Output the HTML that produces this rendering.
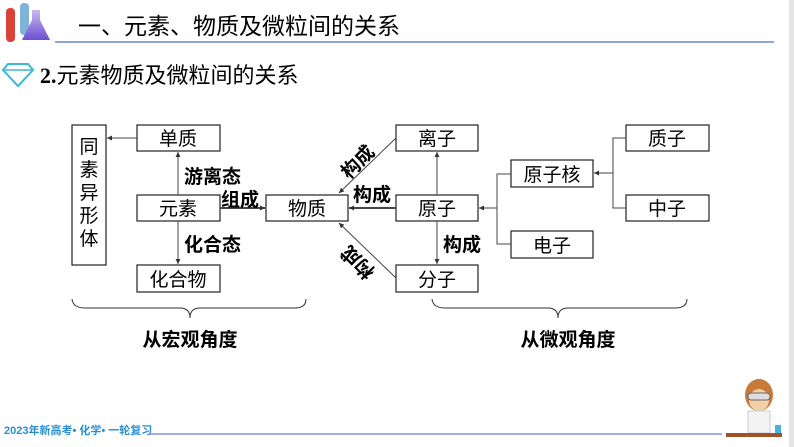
<!DOCTYPE html>
<html><head><meta charset="utf-8"><style>
body{margin:0;background:#fff;}
svg{display:block;}
text{font-family:"Liberation Sans","Noto Sans CJK SC",sans-serif;}
</style></head><body>
<svg width="794" height="447" viewBox="0 0 794 447" xmlns="http://www.w3.org/2000/svg">
<defs>
<marker id="a" markerWidth="6" markerHeight="6" refX="5" refY="3" orient="auto" markerUnits="userSpaceOnUse">
<path d="M0,0.5 L5,3 L0,5.5 z" fill="#333"/></marker>
<linearGradient id="fl" x1="0" y1="0" x2="0" y2="1"><stop offset="0" stop-color="#c9b8f0"/><stop offset="1" stop-color="#6b4fd0"/></linearGradient>
</defs>
<rect x="789" y="0" width="5" height="447" fill="#e4e4e4"/>
<rect x="6" y="8" width="9" height="34" rx="4" fill="#d9443a"/>
<rect x="20" y="3" width="9" height="32" rx="4" fill="#7fb3d9"/>
<path d="M32 10 h8 v10 l10 20 h-28 l10 -20 z" fill="url(#fl)"/>
<line x1="55" y1="42" x2="774" y2="42" stroke="#8ea6e0" stroke-width="2"/>
<text x="78" y="34" font-size="23" fill="#000">一、元素、物质及微粒间的关系</text>
<path d="M3 70 l5 -6 h20 l5 6 l-15 16 z" fill="#fff" stroke="#39b8d8" stroke-width="2"/>
<line x1="3" y1="70" x2="33" y2="70" stroke="#39b8d8" stroke-width="1.5"/>
<text x="40" y="83" font-size="22" fill="#000"><tspan font-weight="bold" font-family="Liberation Serif">2.</tspan>元素物质及微粒间的关系</text>
<g fill="#fff" stroke="#222" stroke-width="1.2">
<rect x="72" y="125" width="34" height="140"/>
<rect x="137" y="125" width="83" height="26"/>
<rect x="137" y="195" width="83" height="26"/>
<rect x="137" y="265" width="83" height="27"/>
<rect x="266" y="195" width="82" height="26"/>
<rect x="396" y="125" width="82" height="26"/>
<rect x="396" y="195" width="82" height="26"/>
<rect x="396" y="265" width="82" height="27"/>
<rect x="511" y="160" width="82" height="27"/>
<rect x="511" y="231" width="82" height="27"/>
<rect x="626" y="125" width="83" height="26"/>
<rect x="626" y="195" width="83" height="26"/>
</g>
<g font-size="19" text-anchor="middle" fill="#000">
<text x="178" y="145">单质</text><text x="178" y="215">元素</text><text x="178" y="286">化合物</text>
<text x="307" y="215">物质</text><text x="437" y="145">离子</text><text x="437" y="215">原子</text><text x="437" y="286">分子</text>
<text x="552" y="181">原子核</text><text x="552" y="252">电子</text><text x="667" y="145">质子</text><text x="667" y="215">中子</text>
<text x="89" y="153">同</text><text x="89" y="176">素</text><text x="89" y="199">异</text><text x="89" y="222">形</text><text x="89" y="245">体</text>
</g>
<g stroke="#444" stroke-width="1" fill="none" marker-end="url(#a)">
<line x1="137" y1="138" x2="107" y2="138"/>
<line x1="178" y1="195" x2="178" y2="152"/>
<line x1="178" y1="221" x2="178" y2="264"/>
<line x1="220" y1="208" x2="265" y2="208" stroke-width="2"/>
<line x1="396" y1="208" x2="349" y2="208" stroke-width="2"/>
<line x1="396" y1="138" x2="339" y2="193"/>
<line x1="396" y1="278" x2="339" y2="223"/>
<line x1="437" y1="195" x2="437" y2="152"/>
<line x1="437" y1="221" x2="437" y2="264"/>
<path d="M511 174 H497 V244 H511" marker-end="none"/>
<line x1="497" y1="208" x2="479" y2="208"/>
<path d="M626 138 H613 V208 H626" marker-end="none"/>
<line x1="613" y1="173" x2="594" y2="173"/>
</g>
<g font-size="19" font-weight="bold" fill="#000">
<text x="184" y="183">游离态</text>
<text x="221" y="206">组成</text>
<text x="184" y="251">化合态</text>
<text x="353" y="201">构成</text>
<text x="443" y="251">构成</text>
<text x="0" y="0" transform="translate(349,180) rotate(-45)">构成</text>
<text x="0" y="0" transform="translate(376,271) rotate(-135)">构成</text>
</g>
<g stroke="#333" stroke-width="1" fill="none">
<path d="M72 299 Q73 308 85 308 H180 Q190 308 190 318 Q190 308 200 308 H295 Q306 308 306 299"/>
<path d="M432 299 Q433 308 445 308 H548 Q558 308 558 318 Q558 308 568 308 H675 Q687 308 687 299"/>
</g>
<g font-size="19" font-weight="bold" text-anchor="middle" fill="#000">
<text x="190" y="346">从宏观角度</text>
<text x="568" y="346">从微观角度</text>
</g>
<text x="4" y="434" font-size="11" font-weight="bold" fill="#2a8fd0">2023年新高考• 化学• 一轮复习</text>
<line x1="148" y1="434" x2="722" y2="434" stroke="#7f9be0" stroke-width="1.5"/>
<ellipse cx="759" cy="395" rx="14" ry="16" fill="#c77a3a"/>
<ellipse cx="759" cy="400" rx="10" ry="11" fill="#f4cfa8"/>
<rect x="748" y="393" width="22" height="7" rx="3" fill="#ddd" stroke="#666"/>
<rect x="748" y="411" width="22" height="22" fill="#f3f3f3" stroke="#ccc"/>
<rect x="726" y="433" width="56" height="4" fill="#a0522d"/>
<rect x="775" y="425" width="6" height="8" fill="#4ab0e0"/>
</svg>
</body></html>
